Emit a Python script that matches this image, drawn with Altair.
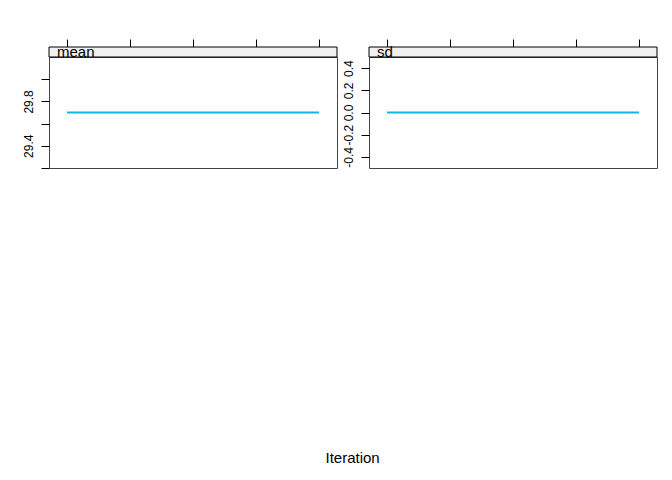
import altair as alt
import pandas as pd

iterations = [1, 2, 3, 4, 5]
mean_values = [29.7, 29.7, 29.7, 29.7, 29.7]
sd_values = [0.0, 0.0, 0.0, 0.0, 0.0]

mean_ticks = [29.2, 29.4, 29.6, 29.8, 30.0]
sd_ticks = [-0.4, -0.2, 0.0, 0.2, 0.4]

x_domain = [0.714, 5.286]
W, H = 288, 111
FONT = "Liberation Sans"
LINE_COL = "#10b6e6"


def panel(name, values, domain, ticks, label_expr):
    df = pd.DataFrame({"Iteration": iterations, "value": values})
    base = alt.Chart(df)
    line = base.mark_line(color=LINE_COL, strokeWidth=2, clip=True).encode(
        x=alt.X(
            "Iteration:Q",
            scale=alt.Scale(domain=x_domain, nice=False, zero=False),
            axis=alt.Axis(
                orient="top", offset=10, tickSize=8, labels=False, domain=False,
                grid=False, values=iterations, title=None, tickColor="black",
            ),
        ),
        y=alt.Y(
            "value:Q",
            scale=alt.Scale(domain=domain, nice=False, zero=False),
            axis=alt.Axis(
                orient="left", tickSize=8, labelAngle=270, labelAlign="center",
                labelBaseline="bottom", labelPadding=6, domain=False, grid=False,
                values=ticks, title=None, tickColor="black", labelColor="black",
                labelFont=FONT, labelFontSize=12, format=".1f",
                labelExpr=label_expr, labelOverlap=False,
            ),
        ),
    )
    strip = base.mark_rect(fill="#f0f0f0", stroke="black", strokeWidth=1).encode(
        x=alt.value(0), x2=alt.value(W), y=alt.value(-10), y2=alt.value(0)
    ).transform_filter("datum.Iteration == 1")
    strip_text = base.mark_text(
        align="left", baseline="alphabetic", font=FONT, fontSize=15, color="black"
    ).encode(
        x=alt.value(8), y=alt.value(0), text=alt.value(name)
    ).transform_filter("datum.Iteration == 1")
    return alt.layer(strip, line, strip_text).properties(width=W, height=H)


mean_expr = "(abs(datum.value - 29.8) < 0.001 || abs(datum.value - 29.4) < 0.001) ? datum.label : ''"
sd_expr = "replace(datum.label, '\u2212', '-')"
p1 = panel("mean", mean_values, [29.2, 30.2], mean_ticks, mean_expr)
p2 = panel("sd", sd_values, [-0.5, 0.5], sd_ticks, sd_expr)

chart = alt.hconcat(p1, p2, spacing=32, bounds="flush").properties(
    title=alt.TitleParams(
        "Iteration", orient="bottom", anchor="start", offset=282, dx=304,
        fontSize=15, font=FONT, fontWeight="normal", color="black",
    ),
    padding={"left": 21, "top": 38, "right": 5, "bottom": 5},
).configure(background="white").configure_view(stroke="#444444", strokeWidth=1)

chart.save("out.html", embed_options={"renderer": "svg", "actions": False})
